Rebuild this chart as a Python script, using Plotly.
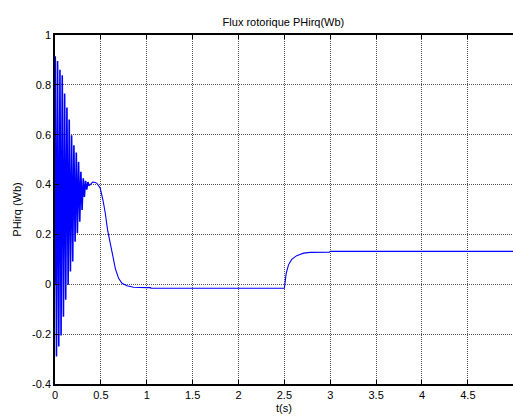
import plotly.graph_objects as go

# Rotor flux PHirq (Wb) versus time (s)
# Start-up oscillation: successive crest / trough values
crest_t = [0.003, 0.028, 0.054, 0.079, 0.105, 0.130, 0.155, 0.181,
           0.206, 0.232, 0.257, 0.282, 0.308, 0.333, 0.359]
crest_v = [0.915, 0.896, 0.861, 0.839, 0.765, 0.709, 0.661, 0.598,
           0.558, 0.529, 0.491, 0.451, 0.425, 0.415, 0.410]
trough_t = [0.016, 0.041, 0.066, 0.092, 0.117, 0.143, 0.168, 0.193,
            0.219, 0.244, 0.270, 0.295, 0.320, 0.346, 0.371]
trough_v = [-0.290, -0.250, -0.205, -0.130, -0.062, -0.002, 0.051, 0.091,
            0.171, 0.205, 0.251, 0.298, 0.350, 0.380, 0.395]

# Settling, flat segment, step at t = 2.5 s and final level
tail_t = [0.371, 0.385, 0.41, 0.44, 0.457, 0.493, 0.523, 0.548, 0.573, 0.602,
          0.632, 0.657, 0.693, 0.73, 0.784, 0.856, 1.0, 1.04, 1.045,
          2.5, 2.52, 2.545, 2.58, 2.635, 2.71, 2.78, 2.99, 3.0, 5.0]
tail_v = [0.395, 0.400, 0.410, 0.408, 0.405, 0.385, 0.338, 0.285, 0.218, 0.165,
          0.111, 0.064, 0.024, 0.004, -0.006, -0.012, -0.0135, -0.0135, -0.016,
          -0.016, 0.044, 0.078, 0.100, 0.115, 0.125, 0.128, 0.129, 0.132, 0.132]

x_ticks = [0, 0.5, 1, 1.5, 2, 2.5, 3, 3.5, 4, 4.5, 5]
y_ticks = [-0.4, -0.2, 0, 0.2, 0.4, 0.6, 0.8, 1]

osc_t = [0.0]
osc_v = [0.0]
for ct, cv, tt, tv in zip(crest_t, crest_v, trough_t, trough_v):
    osc_t += [ct, tt]
    osc_v += [cv, tv]

fig = go.Figure()
# dense start-up oscillation (drawn slightly heavier, as the fast cycles merge)
fig.add_trace(go.Scatter(x=osc_t, y=osc_v, mode="lines",
                         line=dict(color="#0000ff", width=1.6, simplify=False),
                         hoverinfo="skip"))
fig.add_trace(go.Scatter(x=tail_t, y=tail_v, mode="lines",
                         line=dict(color="#0000ff", width=1.1, simplify=False),
                         hoverinfo="skip"))

font = dict(family="Liberation Sans, Arial, sans-serif", size=11, color="#000")
grid = dict(showgrid=True, gridcolor="#555", griddash="1px,1px", gridwidth=1)

fig.update_layout(
    width=513, height=418,
    margin=dict(l=55, r=0, t=35, b=34),
    paper_bgcolor="white", plot_bgcolor="white",
    showlegend=False,
    font=font,
    title=dict(text="Flux rotorique PHirq(Wb)", x=0.5525, xanchor="center",
               y=1 - 22 / 418, yanchor="middle", font=dict(size=11)),
)
fig.update_xaxes(
    range=[0, 4.992], tickvals=x_ticks, ticktext=[str(x) for x in x_ticks],
    ticks="inside", ticklen=4, tickcolor="#000",
    showline=True, linecolor="#000", linewidth=1.5, mirror="ticks",
    zeroline=False, **grid,
    title=dict(text="t(s)", standoff=4, font=dict(size=11)),
)
fig.update_yaxes(
    range=[-0.4, 1], tickvals=y_ticks, ticktext=[f"{y:g}" for y in y_ticks],
    ticks="inside", ticklen=4, tickcolor="#000",
    showline=True, linecolor="#000", linewidth=1.5,
    zeroline=False, **grid,
    title=dict(text="PHirq (Wb)", standoff=8, font=dict(size=11)),
)

fig.write_html("out.html")
